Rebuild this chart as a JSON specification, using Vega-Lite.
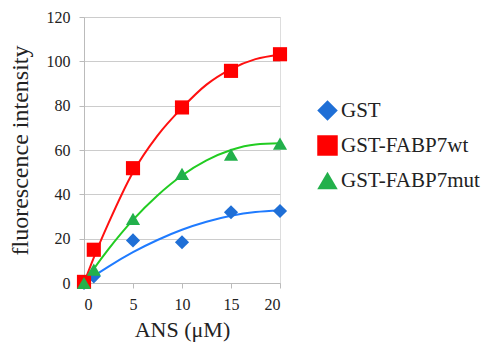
{
  "$schema": "https://vega.github.io/schema/vega-lite/v6.json",
  "autosize": {"type": "none"},
  "padding": {"left": 84, "top": 17, "right": 206, "bottom": 59},
  "width": 196,
  "height": 266,
  "background": "white",
  "config": {
    "font": "Liberation Serif",
    "axis": {
      "titleFont": "Liberation Serif", "titleFontWeight": "normal", "titleColor": "#222222",
      "labelFont": "Liberation Serif", "labelFontSize": 16, "labelColor": "#222222",
      "tickSize": 5, "tickColor": "#bbbbbb", "domainColor": "#bbbbbb", "gridColor": "#cccccc"
    },
    "legend": {
      "labelFont": "Liberation Serif", "labelFontSize": 21, "labelColor": "#222222",
      "symbolSize": 420, "symbolStrokeWidth": 0, "rowPadding": 13, "labelOffset": 3
    }
  },
  "datasets": {
    "points": [
      {"series": "GST", "x": 0, "y": 0},
      {"series": "GST", "x": 1, "y": 3},
      {"series": "GST", "x": 5, "y": 19.2},
      {"series": "GST", "x": 10, "y": 18.4},
      {"series": "GST", "x": 15, "y": 31.9},
      {"series": "GST", "x": 20, "y": 32.5},
      {"series": "GST-FABP7wt", "x": 0, "y": 0.5},
      {"series": "GST-FABP7wt", "x": 1, "y": 15},
      {"series": "GST-FABP7wt", "x": 5, "y": 51.8},
      {"series": "GST-FABP7wt", "x": 10, "y": 79.2},
      {"series": "GST-FABP7wt", "x": 15, "y": 95.7},
      {"series": "GST-FABP7wt", "x": 20, "y": 103.2},
      {"series": "GST-FABP7mut", "x": 0, "y": 0},
      {"series": "GST-FABP7mut", "x": 1, "y": 6},
      {"series": "GST-FABP7mut", "x": 5, "y": 28.9},
      {"series": "GST-FABP7mut", "x": 10, "y": 49.2},
      {"series": "GST-FABP7mut", "x": 15, "y": 57.9},
      {"series": "GST-FABP7mut", "x": 20, "y": 62.9}
    ],
    "curves": [
      {"series": "GST", "x": 0, "y": 0},
      {"series": "GST", "x": 1, "y": 3.1},
      {"series": "GST", "x": 2.5, "y": 7.4},
      {"series": "GST", "x": 5, "y": 13.9},
      {"series": "GST", "x": 7.5, "y": 19.4},
      {"series": "GST", "x": 10, "y": 24},
      {"series": "GST", "x": 12.5, "y": 27.6},
      {"series": "GST", "x": 15, "y": 30.3},
      {"series": "GST", "x": 17.5, "y": 32},
      {"series": "GST", "x": 20, "y": 32.7},
      {"series": "GST-FABP7wt", "x": 0, "y": 0},
      {"series": "GST-FABP7wt", "x": 1, "y": 11.5},
      {"series": "GST-FABP7wt", "x": 2.5, "y": 27},
      {"series": "GST-FABP7wt", "x": 5, "y": 50},
      {"series": "GST-FABP7wt", "x": 7.5, "y": 66.5},
      {"series": "GST-FABP7wt", "x": 10, "y": 79},
      {"series": "GST-FABP7wt", "x": 12.5, "y": 89.5},
      {"series": "GST-FABP7wt", "x": 15, "y": 96.5},
      {"series": "GST-FABP7wt", "x": 17.5, "y": 101},
      {"series": "GST-FABP7wt", "x": 20, "y": 103},
      {"series": "GST-FABP7mut", "x": 0, "y": 0},
      {"series": "GST-FABP7mut", "x": 1, "y": 6.4},
      {"series": "GST-FABP7mut", "x": 2.5, "y": 15.3},
      {"series": "GST-FABP7mut", "x": 5, "y": 28.5},
      {"series": "GST-FABP7mut", "x": 7.5, "y": 39.5},
      {"series": "GST-FABP7mut", "x": 10, "y": 48.5},
      {"series": "GST-FABP7mut", "x": 12.5, "y": 55.3},
      {"series": "GST-FABP7mut", "x": 15, "y": 60},
      {"series": "GST-FABP7mut", "x": 17.5, "y": 62.5},
      {"series": "GST-FABP7mut", "x": 20, "y": 63}
    ]
  },
  "layer": [
    {
      "data": {"name": "curves"},
      "mark": {"type": "line", "interpolate": "monotone", "strokeWidth": 2},
      "encoding": {
        "x": {
          "field": "x", "type": "quantitative",
          "scale": {"domain": [0, 20], "nice": false, "zero": false},
          "axis": {"title": "ANS (μM)", "values": [0, 5, 10, 15, 20], "grid": false, "titleFontSize": 22, "titlePadding": 7, "labelPadding": 8}
        },
        "y": {
          "field": "y", "type": "quantitative",
          "scale": {"domain": [0, 120], "nice": false},
          "axis": {"title": "fluorescence intensity", "values": [0, 20, 40, 60, 80, 100, 120], "grid": true, "titleFontSize": 24, "titlePadding": 14, "labelPadding": 9}
        },
        "stroke": {
          "field": "series", "type": "nominal", "legend": null,
          "scale": {"range": ["#1f7bff", "#22cc22", "#ff1010"]}
        }
      }
    },
    {
      "data": {"name": "points"},
      "mark": {"type": "point", "filled": true, "opacity": 1, "size": 200},
      "encoding": {
        "x": {"field": "x", "type": "quantitative"},
        "y": {"field": "y", "type": "quantitative"},
        "color": {
          "field": "series", "type": "nominal",
          "scale": {"domain": ["GST", "GST-FABP7wt", "GST-FABP7mut"], "range": ["#1f6fd6", "#ff0000", "#22b04b"]},
          "legend": {"title": null, "orient": "none", "legendX": 233, "legendY": 83}
        },
        "shape": {
          "field": "series", "type": "nominal",
          "scale": {"domain": ["GST", "GST-FABP7wt", "GST-FABP7mut"], "range": ["diamond", "square", "triangle-up"]},
          "legend": {"title": null, "orient": "none", "legendX": 233, "legendY": 83}
        }
      }
    }
  ]
}
